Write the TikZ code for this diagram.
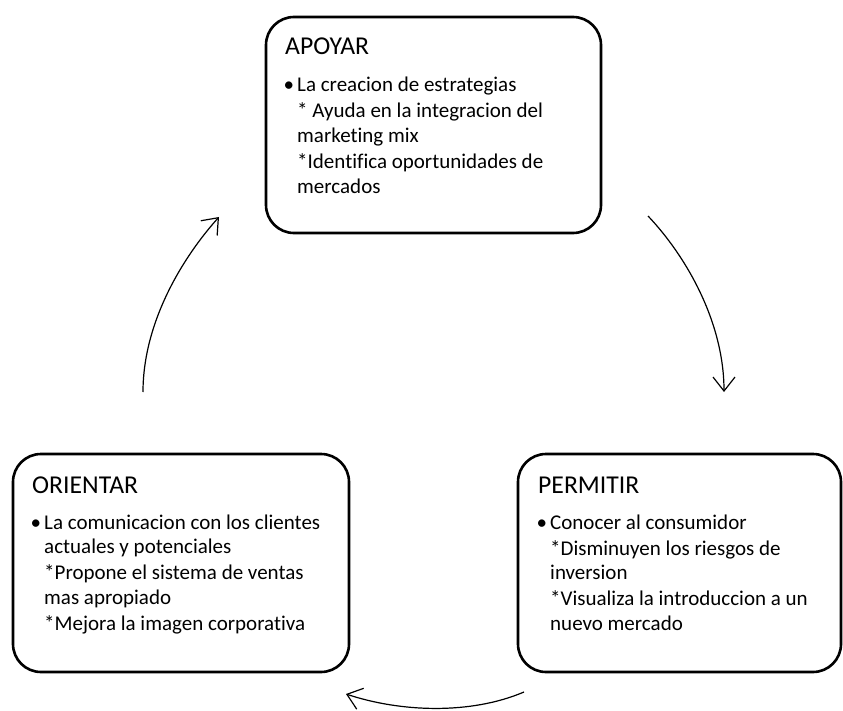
\documentclass[tikz,border=0pt]{standalone}
\usepackage{fontspec}
\setmainfont{Carlito}[Ligatures={NoCommon}]
\usetikzlibrary{arrows.meta}

% body text of a card: first baseline on the node's base line, hanging indent after the bullet
\newcommand{\cardbody}[1]{\vtop{\hsize=330pt\fontsize{21}{24.6}\selectfont
  \parindent=0pt\leftskip=12pt\parskip=1.4pt\relax #1}}
\newcommand{\cardbullet}{\leavevmode\llap{\textbullet\hspace{3.2pt}}}

\tikzset{
  card/.style={draw=black, line width=2.6pt, rounded corners=28pt, inner sep=0pt},
  cardtitle/.style={anchor=base west, inner sep=0pt, font=\fontsize{25.7}{30}\selectfont},
  cardtext/.style={anchor=base west, inner sep=0pt, align=left},
  flow/.style={draw=black, line width=1.2pt, -{Straight Barb[length=14pt, width=22pt]}}
}

\begin{document}
\begin{tikzpicture}[x=1pt, y=-1pt]
  \useasboundingbox (0,0) rectangle (843,711);

  % the three cards
  \node[card, minimum width=335pt, minimum height=216pt] (apoyar) at (433.5,125) {};
  \node[card, minimum width=336pt, minimum height=218pt] (orientar) at (181,563) {};
  \node[card, minimum width=323pt, minimum height=218pt] (permitir) at (679.5,563) {};

  % APOYAR
  \node[cardtitle] (apoyarT) at (285,55) {APOYAR};
  \node[cardtext] (apoyarB) at (285,92) {\cardbody{%
    \cardbullet La creacion de estrategias\par
    * Ayuda en la integracion del\newline marketing mix\par
    *Identifica oportunidades de\newline mercados\par}};

  % ORIENTAR
  \node[cardtitle] (orientarT) at (32,493) {ORIENTAR};
  \node[cardtext] (orientarB) at (32,529) {\cardbody{%
    \cardbullet La comunicacion con los clientes\newline actuales y potenciales\par
    *Propone el sistema de ventas\newline mas apropiado\par
    *Mejora la imagen corporativa\par}};

  % PERMITIR
  \node[cardtitle] (permitirT) at (538,493) {PERMITIR};
  \node[cardtext] (permitirB) at (538,529) {\cardbody{%
    \cardbullet Conocer al consumidor\par
    *Disminuyen los riesgos de\newline inversion\par
    *Visualiza la introduccion a un\newline nuevo mercado\par}};

  % cycle arrows between the cards
  \coordinate (a1) at (143,392);
  \coordinate (a2) at (219,217);
  \coordinate (b1) at (648,216);
  \coordinate (b2) at (724,392);
  \coordinate (c1) at (524,692);
  \coordinate (c2) at (346,694);

  \draw[flow] (a1) .. controls (143,322) and (183,257) .. (a2);
  \draw[flow] (b1) .. controls (686,256) and (724,322) .. (b2);
  \draw[flow] (c1) .. controls (470,715) and (400,712) .. (c2);
\end{tikzpicture}
\end{document}
